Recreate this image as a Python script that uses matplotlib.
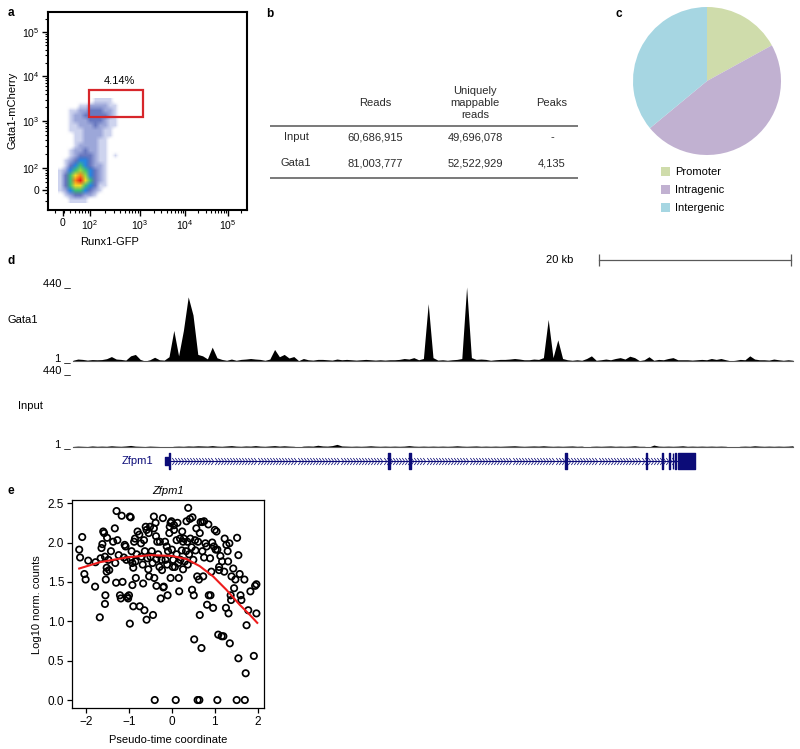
import numpy as np
import matplotlib
matplotlib.use("Agg")
import matplotlib.pyplot as plt
from matplotlib.colors import ListedColormap
from matplotlib.patches import Rectangle
from matplotlib.path import Path

plt.rcParams["font.family"] = ["Liberation Sans", "DejaVu Sans"]
plt.rcParams["mathtext.fontset"] = "custom"
plt.rcParams["mathtext.rm"] = "Liberation Sans"
plt.rcParams["mathtext.it"] = "Liberation Sans:italic"

# ---------------- data ----------------
# a: flow cytometry density levels (0 = empty, 9 = densest), rows top -> bottom
flow_density = [
    "00000001111000",
    "00001122221100",
    "00112233322100",
    "00122333332100",
    "00122233321100",
    "00112223221100",
    "00111222211000",
    "00011222211000",
    "00011222110000",
    "00012222110000",
    "00122322110000",
    "00123332110100",
    "01234432110000",
    "01345432210000",
    "12456543210000",
    "13578643210000",
    "13589753210000",
    "13577543110000",
    "12455432100000",
    "01233221000000",
    "00111100000000",
]
gate_label = "4.14%"
flow_xticklabels = ["0", "$10^2$", "$10^3$", "$10^4$", "$10^5$"]
flow_yticklabels = ["0", "$10^2$", "$10^3$", "$10^4$", "$10^5$"]

# b: sequencing summary table
table_header = ["Reads", "Uniquely\nmappable\nreads", "Peaks"]
table_samples = ["Input", "Gata1"]
table_reads = ["60,686,915", "81,003,777"]
table_unique = ["49,696,078", "52,522,929"]
table_peaks = ["-", "4,135"]

# c: peak annotation
pie_labels = ["Promoter", "Intragenic", "Intergenic"]
pie_values = [17, 47, 36]
pie_colors = ["#cfdcab", "#c1b1d1", "#a6d6e2"]

# d: genome browser tracks (signal every 0.5 kb over 75 kb)
track_kb = np.linspace(0, 75, 151)
gata1_signal = [
    5, 12, 10, 6, 9, 8, 9, 14, 26, 12,
    10, 6, 30, 38, 10, 1, 8, 22, 8, 6,
    25, 173, 30, 173, 362, 260, 38, 30, 13, 79,
    19, 10, 5, 12, 5, 10, 12, 15, 12, 10,
    5, 12, 66, 25, 38, 18, 26, 3, 15, 8,
    6, 10, 10, 8, 6, 12, 8, 10, 8, 6,
    8, 10, 8, 6, 8, 6, 8, 8, 10, 15,
    12, 20, 8, 15, 324, 20, 6, 8, 5, 8,
    10, 15, 418, 20, 10, 12, 10, 5, 8, 10,
    10, 12, 15, 12, 8, 8, 12, 10, 20, 235,
    20, 120, 15, 8, 5, 8, 5, 15, 30, 5,
    8, 12, 8, 15, 20, 12, 28, 20, 3, 8,
    25, 5, 10, 8, 15, 20, 8, 8, 8, 6,
    8, 10, 8, 15, 10, 15, 8, 2, 5, 10,
    8, 30, 12, 8, 8, 6, 12, 8, 5, 8,
    5,
]
input_signal = [
    4, 6, 5, 4, 7, 5, 6, 5, 8, 6,
    5, 7, 10, 6, 5, 4, 6, 5, 4, 1,
    1, 5, 6, 5, 7, 6, 8, 7, 6, 9,
    6, 5, 7, 9, 6, 5, 7, 6, 9, 6,
    5, 7, 9, 6, 8, 6, 5, 1, 6, 7,
    6, 11, 7, 6, 9, 16, 7, 6, 5, 6,
    5, 6, 8, 6, 5, 6, 5, 6, 5, 6,
    9, 6, 5, 6, 5, 6, 5, 6, 5, 6,
    8, 6, 5, 6, 7, 5, 6, 5, 6, 5,
    6, 7, 8, 6, 5, 6, 7, 6, 8, 6,
    5, 6, 5, 6, 7, 5, 6, 1, 5, 6,
    5, 6, 7, 5, 6, 5, 6, 8, 5, 5,
    1, 12, 6, 5, 6, 5, 6, 8, 5, 6,
    5, 6, 5, 6, 5, 6, 5, 1, 1, 5,
    6, 5, 8, 6, 5, 6, 5, 6, 5, 6,
    8,
]
track_max = 440
scale_bar_kb = 20
gene_name = "Zfpm1"
gene_start, gene_end = 9.6, 63.0
utr_starts = [9.58]
utr_ends = [10.0]
exon_starts = [10.0, 32.85, 35.05, 51.3, 59.7, 61.35, 62.05, 62.45, 62.75, 63.0]
exon_ends = [10.15, 33.0, 35.2, 51.45, 59.75, 61.45, 62.15, 62.55, 62.85, 64.8]

# e: expression along pseudo-time
pt_x = [-2.16, -2.14, -2.09, -2.04, -2.01, -1.95, -1.79, -1.78, -1.68, -1.66,
        -1.64, -1.62, -1.60, -1.58, -1.56, -1.56, -1.55, -1.54, -1.52, -1.52,
        -1.51, -1.48, -1.46, -1.42, -1.37, -1.33, -1.32, -1.30, -1.29, -1.27,
        -1.24, -1.21, -1.19, -1.17, -1.15, -1.12, -1.10, -1.08, -1.06, -1.04,
        -1.02, -1.00, -0.98, -0.96, -0.98, -0.96, -0.94, -0.92, -0.92, -0.90,
        -0.90, -0.88, -0.86, -0.85, -0.84, -0.82, -0.80, -0.76, -0.75, -0.72,
        -0.71, -0.68, -0.67, -0.65, -0.64, -0.63, -0.61, -0.59, -0.59, -0.57,
        -0.55, -0.54, -0.53, -0.51, -0.50, -0.47, -0.45, -0.44, -0.42, -0.42,
        -0.41, -0.40, -0.38, -0.37, -0.36, -0.36, -0.34, -0.32, -0.29, -0.28,
        -0.26, -0.24, -0.23, -0.21, -0.20, -0.19, -0.16, -0.15, -0.12, -0.11,
        -0.10, -0.09, -0.06, -0.05, -0.03, -0.03, -0.01, 0.00, 0.02, 0.03,
        0.05, 0.05, 0.07, 0.09, 0.11, 0.11, 0.13, 0.15, 0.16, 0.17,
        0.19, 0.20, 0.23, 0.24, 0.26, 0.26, 0.28, 0.30, 0.33, 0.34,
        0.36, 0.37, 0.38, 0.40, 0.42, 0.43, 0.46, 0.47, 0.48, 0.50,
        0.51, 0.52, 0.54, 0.55, 0.57, 0.59, 0.60, 0.61, 0.63, 0.64,
        0.65, 0.65, 0.67, 0.69, 0.71, 0.71, 0.73, 0.75, 0.75, 0.78,
        0.81, 0.82, 0.85, 0.86, 0.89, 0.90, 0.92, 0.94, 0.96, 0.98,
        1.00, 1.02, 1.04, 1.06, 1.06, 1.08, 1.10, 1.10, 1.13, 1.16,
        1.17, 1.20, 1.22, 1.23, 1.26, 1.27, 1.30, 1.31, 1.32, 1.34,
        1.35, 1.37, 1.38, 1.39, 1.43, 1.45, 1.48, 1.51, 1.52, 1.55,
        1.55, 1.58, 1.60, 1.62, 1.69, 1.70, 1.72, 1.74, 1.78, 1.83,
        1.91, 1.94, 1.97, 1.97]
pt_y = [1.91, 1.81, 2.07, 1.60, 1.53, 1.77, 1.44, 1.75, 1.05, 1.80,
        1.93, 1.98, 2.14, 2.12, 1.82, 1.22, 1.33, 1.53, 1.68, 1.63,
        2.06, 1.78, 1.65, 1.89, 2.01, 2.18, 1.74, 1.49, 2.40, 2.03,
        1.84, 1.33, 1.29, 2.34, 1.50, 1.81, 1.97, 1.95, 1.78, 1.31,
        1.29, 1.33, 2.33, 2.32, 0.97, 1.78, 1.89, 1.74, 1.46, 1.68,
        1.19, 2.01, 2.05, 1.76, 1.55, 1.85, 2.14, 2.10, 1.19, 1.99,
        1.82, 1.72, 1.48, 2.03, 1.14, 1.89, 2.20, 1.02, 2.16, 1.80,
        1.66, 2.12, 1.57, 2.20, 1.82, 1.89, 1.74, 1.08, 2.33, 2.18,
        1.55, 0.00, 2.25, 2.08, 1.45, 1.79, 2.01, 1.85, 1.69, 2.01,
        1.29, 1.78, 1.65, 2.31, 1.43, 1.44, 2.01, 1.78, 1.95, 1.72,
        1.33, 1.89, 2.12, 2.20, 2.25, 1.55, 2.27, 1.91, 1.69, 1.78,
        2.22, 2.16, 1.69, 0.00, 2.03, 1.85, 2.25, 1.74, 1.55, 1.38,
        2.05, 1.78, 1.90, 2.14, 1.66, 2.01, 2.05, 1.76, 1.89, 2.27,
        2.01, 1.72, 2.44, 1.85, 2.30, 2.05, 1.94, 1.40, 2.32, 1.78,
        1.33, 0.77, 2.03, 1.90, 2.18, 1.57, 0.00, 2.01, 1.53, 0.00,
        1.08, 2.12, 2.26, 0.66, 1.89, 2.26, 1.57, 1.81, 2.27, 1.99,
        1.95, 1.21, 2.23, 1.33, 1.80, 1.33, 1.63, 2.00, 1.17, 1.95,
        2.16, 1.91, 2.14, 0.00, 1.91, 0.83, 1.69, 1.65, 1.83, 0.81,
        1.76, 0.81, 1.63, 2.05, 1.17, 1.97, 1.89, 1.76, 1.10, 1.99,
        0.72, 1.33, 1.27, 1.57, 1.67, 1.42, 1.53, 0.00, 2.06, 0.53,
        1.84, 1.60, 1.33, 1.27, 1.53, 0.00, 0.34, 0.95, 1.14, 1.38,
        0.56, 1.45, 1.47, 1.10]
fit_x = [-2.16, -1.68, -1.06, -0.51, 0.00, 0.34, 0.65, 0.96, 1.27, 1.58, 1.82, 1.99]
fit_y = [1.67, 1.75, 1.81, 1.84, 1.83, 1.79, 1.70, 1.57, 1.40, 1.21, 1.08, 0.98]

# ---------------- layout helpers ----------------
W, H = 800, 749
fig = plt.figure(figsize=(W / 100, H / 100), dpi=100)


def box(left, top, right, bottom):
    return [left / W, 1 - bottom / H, (right - left) / W, (bottom - top) / H]


def ftext(x, y, s, **kw):
    fig.text(x / W, 1 - y / H, s, **kw)


for lab, (lx, ly) in zip("abcde", [(8, 13), (266, 14), (616, 14), (8, 261), (8, 491)]):
    ftext(lx, ly, lab, fontsize=8.5, fontweight="bold", va="center")

# ---------------- a: flow plot ----------------
ax = fig.add_axes(box(48, 12, 247, 210))
ax.set_xlim(0, 199)
ax.set_ylim(0, 198)
levels = np.array([[int(c) for c in row] for row in flow_density])
density_colors = [
    (1, 1, 1, 0),
    (0.12, 0.22, 0.70, 0.22),
    (0.08, 0.18, 0.65, 0.42),
    (0.05, 0.15, 0.60, 0.62),
    (0.10, 0.50, 0.88, 0.95),
    (0.25, 0.75, 0.45, 1),
    (0.60, 0.85, 0.25, 1),
    (0.95, 0.85, 0.15, 1),
    (0.98, 0.50, 0.10, 1),
    (0.90, 0.10, 0.10, 1),
]
ax.imshow(levels, cmap=ListedColormap(density_colors), vmin=-0.5, vmax=9.5,
          extent=(10, 80, 7, 112), origin="upper", aspect="auto",
          interpolation="bilinear", interpolation_stage="rgba")
ax.add_patch(Rectangle((41.3, 93.3), 54, 26.7, fill=False, ec="#d7262b", lw=1.6))
ax.text(71, 129, gate_label, ha="center", va="center", fontsize=8)

x_major = [15, 42, 92, 137, 180]
y_major = [20, 42, 89, 134, 178]


def log_minor(majors, lo_span, hi_limit):
    edges = [majors[1] - lo_span] + majors[1:] + [majors[-1] + (majors[-1] - majors[-2])]
    out = []
    for lo, hi in zip(edges[:-1], edges[1:]):
        out += [lo + np.log10(m) * (hi - lo) for m in range(2, 10)]
    return [p for p in out if 0 < p < hi_limit]


ax.set_xticks(x_major, flow_xticklabels)
ax.set_yticks(y_major, flow_yticklabels)
ax.set_xticks(log_minor(x_major, 50, 199), minor=True)
ax.set_yticks(log_minor(y_major, 47, 198), minor=True)
ax.tick_params(which="major", length=4, width=1, labelsize=7.5, pad=2)
ax.tick_params(which="minor", length=2.3, width=0.8)
for s in ax.spines.values():
    s.set_linewidth(1.5)
ftext(13, 110, "Gata1-mCherry", rotation=90, ha="center", va="center", fontsize=8)
ftext(110, 242, "Runx1-GFP", ha="center", va="center", fontsize=8)

# ---------------- b: table ----------------
axb = fig.add_axes(box(255, 0, 595, 200))
axb.set_xlim(255, 595)
axb.set_ylim(200, 0)
axb.axis("off")
col_x = [375, 475, 552]
tcol = "#2b2b2b"
for x, h in zip(col_x, table_header):
    axb.text(x, 103, h, ha="center", va="center", fontsize=8, color=tcol, linespacing=1.2)
axb.hlines([126, 178], 270, 578, color="#555555", lw=1.1)
for r, y in enumerate([137, 163]):
    axb.text(296, y, table_samples[r], ha="center", va="center", fontsize=8, color=tcol)
    for x, vals in zip(col_x, [table_reads, table_unique, table_peaks]):
        axb.text(x, y, vals[r], ha="center", va="center", fontsize=8, color=tcol)

# ---------------- c: pie ----------------
axc = fig.add_axes(box(633, 7, 781, 155))
wedges, _ = axc.pie(pie_values, colors=pie_colors, startangle=90, counterclock=False,
                    radius=1, wedgeprops=dict(linewidth=0))
axc.set_xlim(-1.0, 1.0)
axc.set_ylim(-1.0, 1.0)
axc.legend(wedges, pie_labels, loc="upper left", bbox_to_anchor=(661 / W, 1 - 167 / H),
           bbox_transform=fig.transFigure, frameon=False, fontsize=8,
           handlelength=0.8, handleheight=0.8, handletextpad=0.45, labelspacing=0.72,
           borderpad=0, borderaxespad=0)

# ---------------- d: browser tracks ----------------
def track(top, bottom, values, name, name_x, name_y):
    a = fig.add_axes(box(73, top, 793, bottom))
    a.fill_between(track_kb, 1, values, color="black", lw=0)
    a.axhline(1, color="0.35", lw=0.8, clip_on=False)
    a.set_xlim(0, 75)
    a.set_ylim(1, track_max)
    a.axis("off")
    ftext(71, top, f"{track_max} _", ha="right", va="center", fontsize=8)
    ftext(71, bottom - 2.5, "1 _", ha="right", va="center", fontsize=8)
    ftext(name_x, name_y, name, ha="left", va="center", fontsize=8)


track(283, 361, gata1_signal, "Gata1", 8, 320)
track(370, 447, input_signal, "Input", 18, 406)

axs = fig.add_axes(box(73, 250, 793, 270))
axs.set_xlim(0, 75)
axs.set_ylim(-1, 1)
axs.axis("off")
bar_end = 74.8
axs.plot([bar_end - scale_bar_kb, bar_end], [0, 0], color="0.35", lw=0.9)
axs.plot([bar_end - scale_bar_kb, bar_end], [0, 0], ls="none", marker="|", ms=8, mew=0.9, color="0.35")
axs.text(bar_end - scale_bar_kb - 2.7, 0, f"{scale_bar_kb} kb", ha="right", va="center", fontsize=8)

navy = "#0c0c78"
axg = fig.add_axes(box(73, 450, 793, 472))
axg.set_xlim(0, 75)
axg.set_ylim(-1, 1)
axg.axis("off")
axg.hlines(0, gene_start, gene_end, color=navy, lw=0.8)
chevron = Path([(-0.35, 1), (0.35, 0), (-0.35, -1)], [Path.MOVETO, Path.LINETO, Path.LINETO])
chev_x = np.arange(gene_start + 0.45, gene_end - 0.2, 0.32)
axg.plot(chev_x, np.zeros_like(chev_x), ls="none", marker=chevron, ms=5,
         mfc="none", mec=navy, mew=0.55)
axg.broken_barh([(s, e - s) for s, e in zip(utr_starts, utr_ends)], (-0.4, 0.8), color=navy)
axg.broken_barh([(s, e - s) for s, e in zip(exon_starts, exon_ends)], (-0.73, 1.46), color=navy)
axg.text(gene_start - 1.2, 0, gene_name, ha="right", va="center", fontsize=8, color=navy)

# ---------------- e: pseudo-time ----------------
axe = fig.add_axes(box(71.7, 500, 264.3, 708.3))
axe.scatter(pt_x, pt_y, s=21, facecolors="none", edgecolors="black", linewidths=1.25, zorder=2)
axe.plot(fit_x, fit_y, color="#ee1c1c", lw=1.5, zorder=3)
axe.set_xlim(-2.335, 2.154)
axe.set_ylim(-0.105, 2.54)
axe.set_xticks([-2, -1, 0, 1, 2])
axe.set_yticks([0.0, 0.5, 1.0, 1.5, 2.0, 2.5])
axe.yaxis.set_major_formatter(matplotlib.ticker.FormatStrFormatter("%.1f"))
axe.tick_params(length=3.5, width=0.9, labelsize=8.5, pad=2)
for s in axe.spines.values():
    s.set_linewidth(0.9)
axe.set_title(gene_name, fontsize=8, style="italic", pad=4)
axe.set_xlabel("Pseudo-time coordinate", fontsize=8, labelpad=5)
axe.set_ylabel("Log10 norm. counts", fontsize=8, labelpad=4)

fig.savefig("out.png", dpi=100)
